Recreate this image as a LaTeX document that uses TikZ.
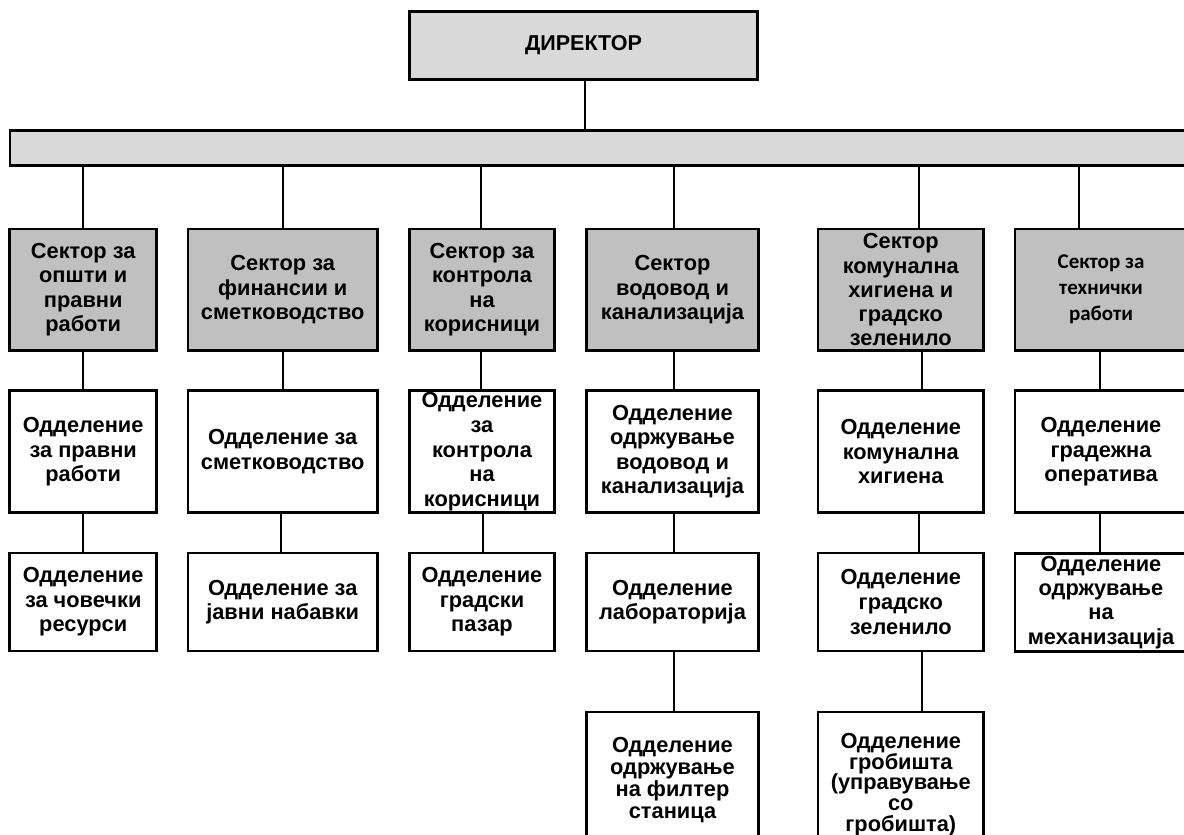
\documentclass[tikz,border=0pt]{standalone}
\usepackage{fontspec}
\setmainfont{Liberation Sans}
\newfontfamily\calfont{Carlito}
\definecolor{lightgr}{HTML}{D9D9D9}
\definecolor{sectgr}{HTML}{C0C0C0}
\begin{document}
\begin{tikzpicture}[x=1pt,y=-1pt,
  box/.style={draw, line width=2.8pt, rectangle, inner sep=0pt, align=center,
    font=\bfseries\fontsize{21.8}{24.6}\selectfont},
  sect/.style={box, fill=sectgr, minimum height=121.3pt},
  rowtwo/.style={box, fill=white, minimum height=122pt},
  rowthree/.style={box, fill=white, minimum height=98pt},
  rowfour/.style={box, fill=white, minimum height=168pt},
  txt/.style={inner sep=0pt, align=center},
  c1/.style={minimum width=146.8pt},
  c2/.style={minimum width=189.4pt},
  c3/.style={minimum width=144.5pt},
  c4/.style={minimum width=172pt},
  c5/.style={minimum width=165.6pt},
  c6/.style={minimum width=172pt},
  conn/.style={line width=1.8pt}]
\useasboundingbox (0,0) rectangle (1184,835);
\clip (0,0) rectangle (1184,835);

% top
\node[box, fill=lightgr, minimum width=348pt, minimum height=68pt,
  font=\bfseries\fontsize{21.5}{24}\selectfont] (dir) at (583.5,45.5) {ДИРЕКТОР};
\node[box, fill=lightgr, minimum width=1178pt, minimum height=34.6pt] (bar) at (599,148) {};

% sectors
\node[sect, c1] (s1) at (83.2,289.7) {Сектор за\\општи и\\правни\\работи};
\node[sect, c2] (s2) at (282.7,289.7) {Сектор за\\финансии и\\сметководство};
\node[sect, c3] (s3) at (482,289.7) {Сектор за\\контрола\\на\\корисници};
\node[sect, c4] (s4) at (672.5,289.7) {Сектор\\водовод и\\канализација};
\node[sect, c5, font=\bfseries\fontsize{21.8}{24.2}\selectfont] (s5) at (900.8,289.7) {Сектор\\комунална\\хигиена и\\градско\\зеленило};
\node[sect, c6, font=\calfont\bfseries\fontsize{21}{26}\selectfont] (s6) at (1101,289.7) {Сектор за\\технички\\работи};

% row 2
\node[rowtwo, c1] (a1) at (83.2,451.7) {Одделение\\за правни\\работи};
\node[rowtwo, c2] (a2) at (282.7,451.7) {Одделение за\\сметководство};
\node[rowtwo, c3] (a3) at (482,451.7) {Одделение\\за\\контрола\\на\\корисници};
\node[rowtwo, c4] (a4) at (672.5,451.7) {Одделение\\одржување\\водовод и\\канализација};
\node[rowtwo, c5] (a5) at (900.8,451.7) {Одделение\\комунална\\хигиена};
\node[rowtwo, c6] (a6) at (1101,451.7) {Одделение\\градежна\\оператива};

% row 3
\node[rowthree, c1] (b1) at (83.2,602) {Одделение\\за човечки\\ресурси};
\node[rowthree, c2] (b2) at (282.7,602) {Одделение за\\јавни набавки};
\node[rowthree, c3] (b3) at (482,602) {Одделение\\градски\\пазар};
\node[rowthree, c4] (b4) at (672.5,602) {Одделение\\лабораторија};
\node[rowthree, c5] (b5) at (900.8,602) {Одделение\\градско\\зеленило};
\node[rowthree, c6, font=\bfseries\fontsize{21.8}{24.2}\selectfont] (b6) at (1101,602.5) {Одделение\\одржување\\на\\механизација};

% row 4
\node[rowfour, c4] (d4) at (672.5,796) {};
\node[rowfour, c5] (d5) at (900.8,796) {};
\node[txt, font=\bfseries\fontsize{21.8}{21.8}\selectfont] (d4t) at (672.5,780) {Одделение\\одржување\\на филтер\\станица};
\node[txt, font=\bfseries\fontsize{21.8}{20.6}\selectfont] (d5t) at (900.8,784.5) {Одделение\\гробишта\\(управување\\со\\гробишта)};

% connectors
\draw[conn] ([xshift=1.2pt]dir.south) -- ([xshift=1.2pt]dir.south |- bar.north);
\draw[conn] (bar.south -| s1.north) -- (s1.north);
\draw[conn] (bar.south -| s2.north) -- (s2.north);
\draw[conn] ([xshift=-1pt]bar.south -| s3.north) -- ([xshift=-1pt]s3.north);
\draw[conn] ([xshift=1.2pt]bar.south -| s4.north) -- ([xshift=1.2pt]s4.north);
\draw[conn] ([xshift=18pt]bar.south -| s5.north) -- ([xshift=18pt]s5.north);
\draw[conn] ([xshift=-22.3pt]bar.south -| s6.north) -- ([xshift=-22.3pt]s6.north);

\draw[conn] (s1.south) -- (a1.north);
\draw[conn] (s2.south) -- (a2.north);
\draw[conn] ([xshift=-1pt]s3.south) -- ([xshift=-1pt]a3.north);
\draw[conn] ([xshift=1.2pt]s4.south) -- ([xshift=1.2pt]a4.north);
\draw[conn] ([xshift=21pt]s5.south) -- ([xshift=21pt]a5.north);
\draw[conn] ([xshift=-1pt]s6.south) -- ([xshift=-1pt]a6.north);

\draw[conn] (a1.south) -- (b1.north);
\draw[conn] ([xshift=-1.4pt]a2.south) -- ([xshift=-1.4pt]b2.north);
\draw[conn] ([xshift=1pt]a3.south) -- ([xshift=1pt]b3.north);
\draw[conn] ([xshift=1.2pt]a4.south) -- ([xshift=1.2pt]b4.north);
\draw[conn] ([xshift=18pt]a5.south) -- ([xshift=18pt]b5.north);
\draw[conn] ([xshift=-1pt]a6.south) -- ([xshift=-1pt]b6.north);

\draw[conn] ([xshift=1.5pt]b4.south) -- ([xshift=1.5pt]d4.north);
\draw[conn] ([xshift=21pt]b5.south) -- ([xshift=21pt]d5.north);
\end{tikzpicture}
\end{document}
